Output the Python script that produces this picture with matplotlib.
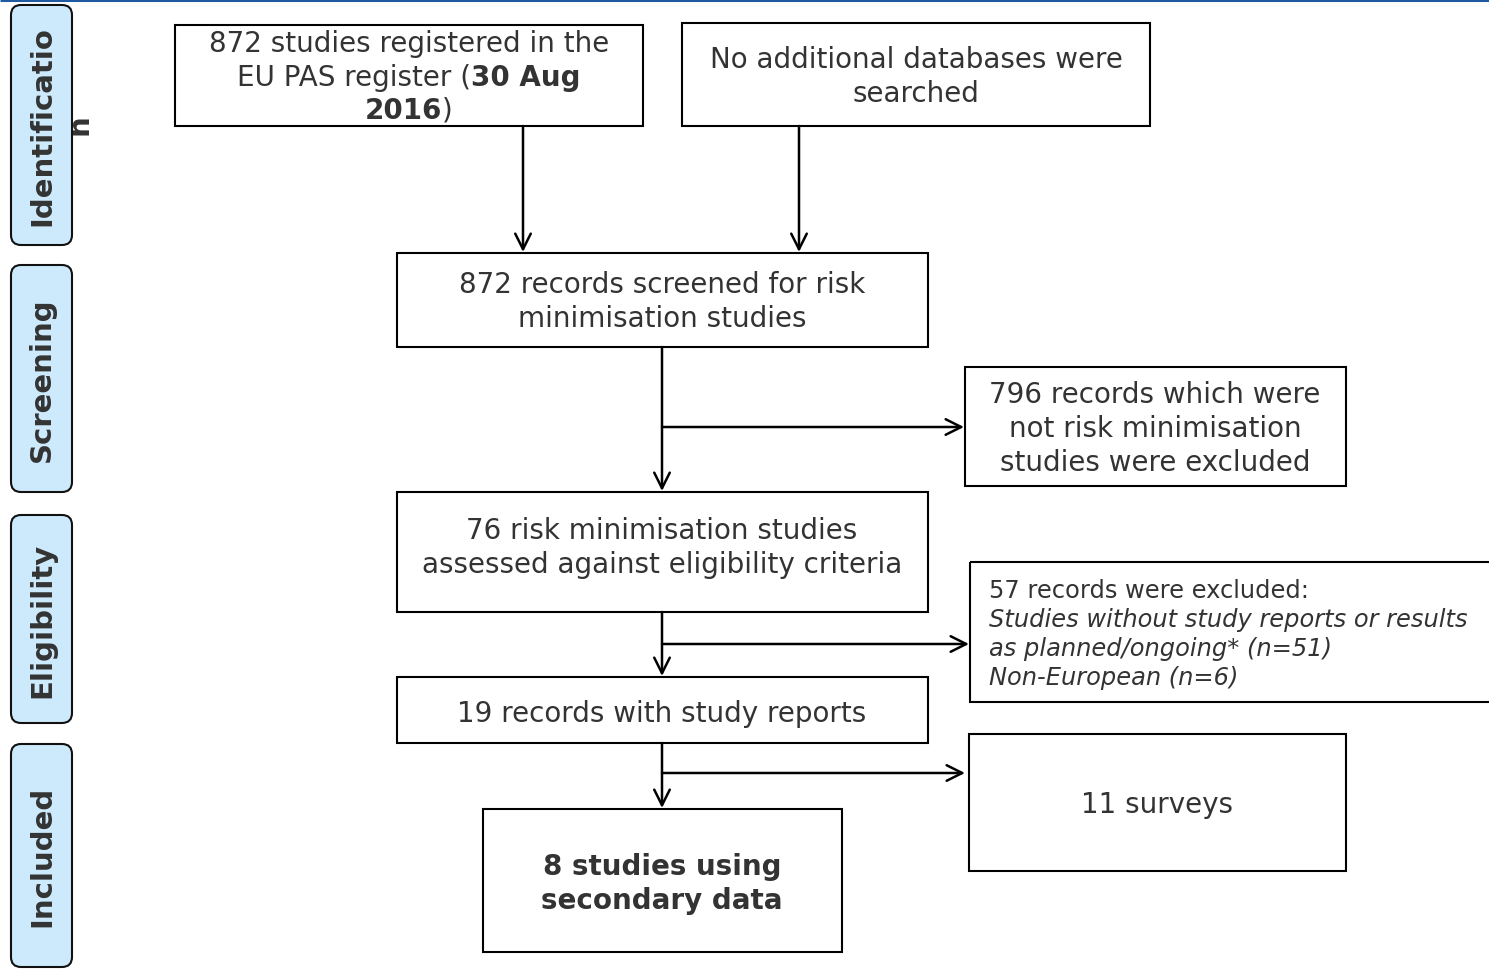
import matplotlib
matplotlib.use("Agg")
import matplotlib.pyplot as plt
from matplotlib.patches import Rectangle, FancyBboxPatch

# ---- content ----
stages = ["Identificatio", "Screening", "Eligibility", "Included"]
n_registered = 872
n_screened = 872
n_not_rm = 796
n_rm = 76
n_excluded = 57
n_no_report = 51
n_non_eu = 6
n_reports = 19
n_surveys = 11
n_secondary = 8

TXT = "#333333"
W, H = 1489, 970
fig = plt.figure(figsize=(W / 100, H / 100), dpi=100)
ax = fig.add_axes([0, 0, 1, 1])
ax.set_xlim(0, W)
ax.set_ylim(H, 0)
ax.axis("off")

FS = 20.0
FS_SMALL = 17.4
FS_SIDE = 21.0
LW = 1.5

# top blue rule
ax.plot([0, W], [1.2, 1.2], color="#1f5aa0", lw=2.2, solid_capstyle="butt")


def box(x0, y0, x1, y1):
    ax.add_patch(Rectangle((x0, y0), x1 - x0, y1 - y0, fill=False,
                           ec="black", lw=LW))


def arrow(x0, y0, x1, y1):
    ax.annotate("", xy=(x1, y1), xytext=(x0, y0),
                arrowprops=dict(arrowstyle="->", lw=1.8, color="black",
                                mutation_scale=28, shrinkA=0, shrinkB=0))


def center_text(cx, cy, s, fs=FS, weight="normal", ls=1.27):
    ax.text(cx, cy, s, ha="center", va="center", fontsize=fs,
            color=TXT, fontweight=weight, family="DejaVu Sans",
            linespacing=ls)


renderer = fig.canvas.get_renderer()


def mixed_line(cx, cy, parts, fs=FS):
    widths = []
    for s, w in parts:
        t = ax.text(0, 0, s, fontsize=fs, fontweight=w, family="DejaVu Sans")
        bb = t.get_window_extent(renderer=renderer)
        widths.append(bb.width)
        t.remove()
    total = sum(widths)
    x = cx - total / 2
    for (s, w), wd in zip(parts, widths):
        ax.text(x, cy, s, ha="left", va="center", fontsize=fs,
                fontweight=w, color=TXT, family="DejaVu Sans")
        x += wd


# ---- side stage labels ----
side = [(6, 246), (266, 493), (516, 724), (745, 968)]
for (y0, y1), lab in zip(side, stages):
    ax.add_patch(FancyBboxPatch((11, y0), 61, y1 - y0,
                                boxstyle="round,pad=0,rounding_size=10",
                                fc="#cdeafd", ec="#111111", lw=1.5))
    ax.text(42, (y0 + y1) / 2, lab, rotation=90, ha="center", va="center",
            fontsize=FS_SIDE, fontweight="bold", color=TXT, family="DejaVu Sans")
# overflowing final letter of "Identification"
ax.text(79, 125, "n", rotation=90, ha="center", va="center",
        fontsize=FS_SIDE, fontweight="bold", color=TXT, family="DejaVu Sans")

# ---- identification boxes ----
box(175, 26, 643, 127)
center_text(409, 44, f"{n_registered} studies registered in the")
mixed_line(409, 78, [("EU PAS register (", "normal"), ("30 Aug", "bold")])
mixed_line(409, 111, [("2016", "bold"), (")", "normal")])

box(682, 24, 1150, 127)
center_text(916, 77, "No additional databases were\nsearched")

arrow(523, 127, 523, 253)
arrow(799, 127, 799, 253)

# ---- screening ----
box(397, 254, 928, 348)
center_text(662, 302, f"{n_screened} records screened for risk\nminimisation studies")

box(965, 368, 1346, 487)
center_text(1155, 429, f"{n_not_rm} records which were\nnot risk minimisation\nstudies were excluded")

arrow(662, 348, 662, 492)
arrow(662, 428, 964, 428)

# ---- eligibility ----
box(397, 493, 928, 613)
center_text(662, 548, f"{n_rm} risk minimisation studies\nassessed against eligibility criteria")

box(970, 563, 1500, 703)
ax.text(989, 591, f"{n_excluded} records were excluded:", ha="left", va="center",
        fontsize=FS_SMALL, color=TXT, family="DejaVu Sans")
ax.text(989, 620, "Studies without study reports or results", ha="left",
        va="center", fontsize=FS_SMALL, color=TXT, style="italic",
        family="DejaVu Sans")
ax.text(989, 649, f"as planned/ongoing* (n={n_no_report})", ha="left",
        va="center", fontsize=FS_SMALL, color=TXT, style="italic",
        family="DejaVu Sans")
ax.text(989, 678, f"Non-European (n={n_non_eu})", ha="left", va="center",
        fontsize=FS_SMALL, color=TXT, style="italic", family="DejaVu Sans")

arrow(662, 613, 662, 677)
arrow(662, 645, 969, 645)

box(397, 678, 928, 744)
center_text(662, 714, f"{n_reports} records with study reports")

# ---- included ----
arrow(662, 744, 662, 809)
arrow(662, 774, 965, 774)

box(969, 735, 1346, 872)
center_text(1157, 805, f"{n_surveys} surveys")

box(483, 810, 842, 953)
center_text(662, 884, f"{n_secondary} studies using\nsecondary data", weight="bold")

fig.savefig("out.png", dpi=100)
